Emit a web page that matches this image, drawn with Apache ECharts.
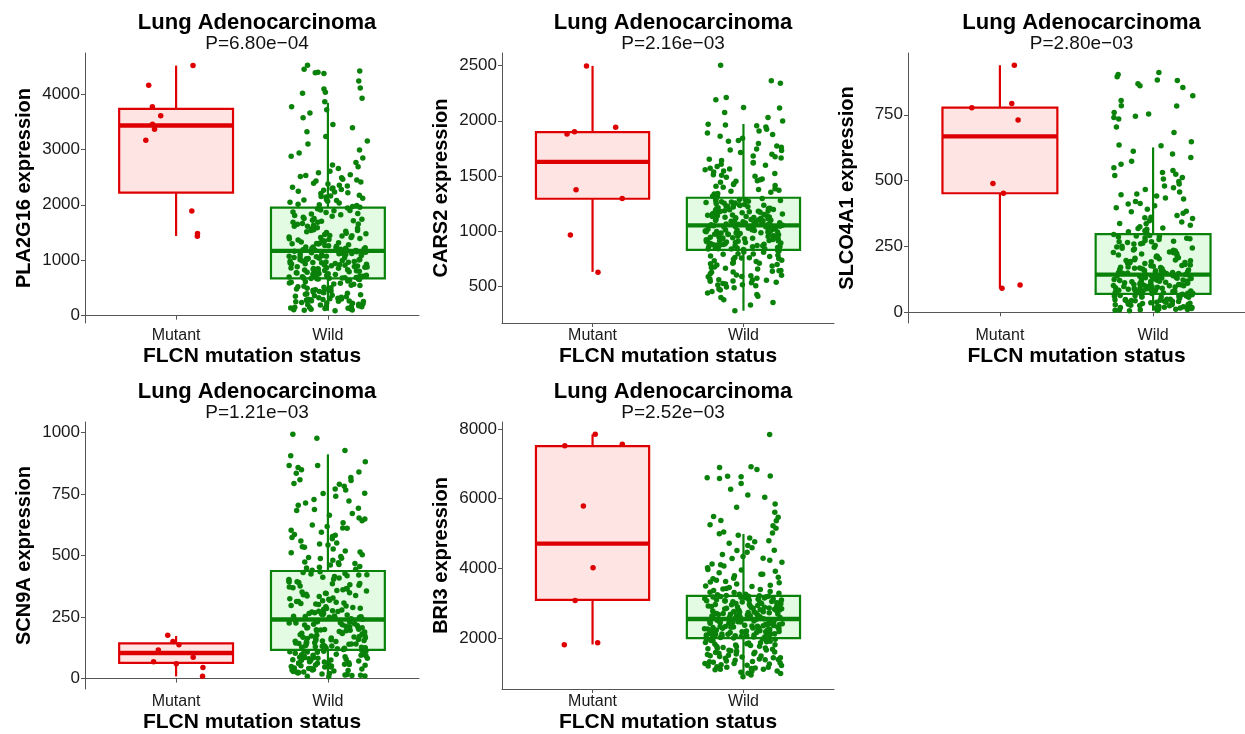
<!DOCTYPE html>
<html><head><meta charset="utf-8">
<script src="https://cdn.jsdelivr.net/npm/echarts@6/dist/echarts.min.js"></script>
<style>html,body{margin:0;padding:0;background:#fff}#c{width:1245px;height:734px}</style>
</head><body><div id="c"></div>
<script>
// ---- data ----
const categories = ['Mutant', 'Wild'];
const genes = ['PLA2G16', 'CARS2', 'SLCO4A1', 'SCN9A', 'BRI3'];
const pValues = ['P=6.80e\u221204', 'P=2.16e\u221203', 'P=2.80e\u221203', 'P=1.21e\u221203', 'P=2.52e\u221203'];
const yTicks = [
  [0, 1000, 2000, 3000, 4000],
  [500, 1000, 1500, 2000, 2500],
  [0, 250, 500, 750],
  [0, 250, 500, 750, 1000],
  [2000, 4000, 6000, 8000]
];
// box stats: [lower whisker, Q1, median, Q3, upper whisker]
const boxMutant = [
  [1439, 2219, 3430, 3730, 4510],
  [632, 1294, 1628, 1898, 2497],
  [91, 452, 668, 777, 938],
  [9, 64, 104, 143, 173],
  [1820, 3100, 4711, 7507, 7839]
];
const boxWild = [
  [90, 672, 1169, 1949, 3838],
  [280, 831, 1053, 1303, 1971],
  [6, 70, 143, 297, 626],
  [7, 117, 240, 437, 911],
  [891, 2000, 2550, 3213, 4986]
];
const mutant1 = [4156, 3766, 3604, 3454, 3364, 3166, 1889, 1481, 1433, 4510];
const mutant2 = [2497, 1941, 1901, 1880, 1375, 1297, 966, 629];
const mutant3 = [938, 793, 777, 730, 489, 452, 104, 91];
const mutant4 = [176, 151, 137, 116, 87, 68, 60, 45, 9];
const mutant5 = [7848, 7555, 7517, 5791, 4019, 3081, 1867, 1810];
const wild1 = [4516,4414,4390,4381,4444,4366,4234,4108,4090,4012,4030,3922,3856,3766,
3712,3654,3571,3447,3391,3318,3233,3152,3098,2987,2934,2876,2843,2761,2718,2684,2603,2577,2541,2512,2486,2447,2431,2409,2388,2352,2337,2317,2291,2276,2262,2233,2218,2204,2171,2158,2139,2117,2096,2078,2064,2046,2031,2012,2003,1987,1968,
1941,1929,1907,1896,1871,1863,1842,1819,1806,1794,1776,1751,1741,1722,1703,1686,1664,1655,1633,1615,1597,1584,1563,1549,1536,1512,1501,1487,1465,1448,1436,1421,1409,1387,1374,1355,1347,1331,1318,1302,1291,1279,1260,1251,1239,1226,1215,1204,1199,1188,1182,1176,1173,1168,1163,
1158,1146,1137,1126,1118,1104,1095,1083,1074,1062,1049,1038,1028,1019,1004,996,981,969,961,951,937,926,918,909,897,881,873,864,852,846,834,825,811,800,791,785,774,761,752,747,736,724,719,713,704,699,691,683,681,676,674,669,668,661,659,
652,641,625,613,604,587,571,566,548,533,522,514,497,483,473,461,447,429,421,406,397,387,371,359,349,341,326,314,302,294,283,268,262,251,239,224,214,208,193,178,172,167,152,139,133,128,118,106,102,97,91,287,305,276,264,
1893,1754,1612,1577,1443,1392,1268,1241,1187,1121,1088,1057,1012,987,954,931,902,877,858,839,817,796,778,757,731,709,694,1834,1711,1648,1523,1476,1366,1309,1232,1143,1109,1071,1033,976,943,913,889,861,829,806,769,741,716,
1958,2087,2149,2246,2301,2374,2462,2529,2655,588,543,506,468,437,412,376,331,297,256,231,198,161,147,122,1684,1538,1411,1297,1211,1152,1093,1047,1009,964];
const wild2 = [2503,2362,2341,2211,2190,2121,2115,2076,2031,1998,
1968,1962,1956,1943,1924,1907,1889,1876,1861,1841,1822,1814,1794,1772,1760,1745,1731,1713,1697,1682,1664,1651,1641,1622,1606,1597,1586,1571,1556,1546,1537,1522,1506,1497,1489,1473,1458,1452,1444,1429,1415,1407,1399,1384,1370,1362,1354,1338,1324,1316,
1299,1296,1287,1279,1276,1268,1261,1256,1251,1244,1235,1232,1227,1219,1212,1206,1203,1195,1186,1183,1179,1171,1164,1159,1155,1148,1140,1137,1133,1126,1118,1114,1111,1103,1096,1093,1090,1083,1077,1074,1072,1066,1061,1059,1057,1291,1242,1196,1158,1117,1081,1228,1134,1067,1054,
1049,1046,1041,1034,1032,1029,1023,1016,1014,1011,1004,997,995,992,985,979,976,973,967,960,957,955,948,941,939,936,929,922,919,916,909,902,899,897,889,882,879,877,869,862,859,857,849,842,839,835,1021,987,951,912,876,842,1002,933,861,
826,819,809,795,791,783,771,762,752,747,738,725,716,709,699,686,677,671,658,644,637,629,616,602,596,587,574,561,556,549,538,527,521,516,506,496,489,476,467,455,441,426,412,399,380,354,331,280,512,547,568,603,642,705,760,
1288,1272,1253,1247,1221,1209,1191,1176,1168,1151,1144,1129,1122,1107,1099,1086,1069,1063,1051,1043,1038,1026,1019,1007,1001,993,983,970,964,953,945,931,926,914,906,893,886,871,866,853,847,838,
1341,1378,1423,1467,1512,1563,1618,1674,1736,812,793,776,758,733,711,694,664,631,589,558,533,1264,1181,1097,1012,938,871,1239,1125,984,889];
const wild3 = [911,903,894,882,880,868,860,854,822,804,784,783,759,753,744,740,734,704,683,648,635,632,
612,601,588,574,562,549,538,531,524,519,506,497,487,480,466,457,449,442,434,430,421,413,405,397,391,384,376,368,361,356,348,343,336,331,325,320,315,310,306,302,
295,292,286,281,276,270,265,260,254,248,244,240,233,227,224,218,214,210,205,200,197,192,188,185,180,177,172,168,165,163,159,155,153,151,148,147,145,144,290,262,237,211,189,170,157,268,226,199,175,151,
141,140,137,134,133,130,129,126,125,122,121,118,117,114,113,110,109,106,105,102,101,98,97,94,93,90,89,86,85,82,81,78,77,74,73,71,138,126,112,98,86,74,132,118,104,92,80,72,134,106,
69,68,65,62,61,58,57,54,53,50,49,46,45,42,41,38,37,34,33,30,29,26,25,22,21,18,17,14,13,10,9,7,6,66,58,50,42,34,26,18,12,62,46,30,16,64,38,22,
288,279,268,259,247,236,229,216,207,196,186,178,167,161,154,147,139,131,123,116,108,101,95,88,83,76,72,283,251,221,193,171,158,136,119,103,91,79,273,243,203,182,164,149,128,111,96,84,
67,59,48,36,27,19,11,63,44,31,14,8,318,337,359,382,411,446,473,512];
const wild4 = [993,976,927,
905,881,866,857,848,834,817,805,792,781,770,766,752,741,727,713,704,692,683,671,664,652,641,633,624,612,603,594,585,577,568,559,551,543,534,526,518,511,503,496,488,481,474,467,461,455,449,444,440,618,573,536,492,463,789,
434,427,421,415,409,403,397,390,385,379,372,366,361,356,349,343,338,333,327,322,316,310,305,301,295,289,285,281,276,270,267,264,259,254,251,249,245,243,241,412,376,341,307,274,252,393,352,318,286,258,425,364,297,264,247,
237,232,229,226,221,216,213,210,205,200,197,194,189,184,181,178,173,168,165,163,159,155,153,151,147,143,141,139,135,131,129,127,123,120,119,231,211,194,176,158,142,127,219,187,163,134,226,199,171,146,124,207,181,152,131,
115,111,109,107,103,99,97,95,91,87,85,83,79,75,73,71,67,63,61,59,55,51,49,47,43,39,37,35,31,27,25,23,19,15,13,11,7,108,95,81,68,54,41,27,14,111,89,62,35,99,74,47,21,86,57,
431,418,404,392,381,369,358,346,335,324,313,303,292,282,273,262,253,244,236,227,218,208,198,191,183,175,166,157,149,140,132,125,118,422,386,347,313,279,249,223,196,169,145,121,
112,93,77,64,52,41,29,17,9,104,83,58,33,452,471,489,514,547,582,611,648,687,721,753,808,839,866];
const wild5 = [7839,6910,6891,6834,6645,6640,6626,6597,6578,6436,6265,6104,6038,5848,5754,5611,5488,5469,5374,5368,5251,5223,5147,5043,5014,4995,
4948,4872,4791,4720,4654,4589,4517,4463,4398,4341,4287,4232,4178,4126,4071,4019,3968,3921,3874,3829,3786,3744,3703,3662,3624,3588,3551,3517,3484,3452,3421,3392,3364,3337,3311,3286,3262,3241,3226,3218,
3204,3193,3178,3167,3151,3140,3126,3114,3100,3089,3073,3062,3048,3037,3021,3011,2996,2985,2970,2960,2945,2933,2919,2908,2893,2882,2868,2857,2842,2832,2817,2806,2792,2781,2767,2756,2741,2731,2716,2706,2691,2680,2666,2655,2641,2630,2616,2605,2591,2580,2566,2558,3186,2913,2648,
2543,2530,2522,2510,2503,2490,2482,2470,2462,2450,2443,2430,2423,2410,2402,2390,2383,2370,2362,2350,2343,2330,2322,2310,2303,2290,2282,2270,2263,2250,2242,2230,2223,2210,2202,2190,2183,2170,2162,2150,2143,2130,2122,2110,2102,2090,2083,2070,2062,2050,2043,2030,2022,2010,2003,
1987,1968,1951,1932,1914,1897,1879,1861,1842,1826,1807,1789,1771,1752,1734,1716,1697,1679,1661,1642,1624,1606,1587,1569,1551,1532,1514,1496,1477,1459,1441,1422,1404,1386,1367,1349,1331,1312,1294,1276,1257,1239,1221,1202,1184,1166,1147,1129,1111,1092,1058,1021,984,947,891,
3199,3172,3148,3121,3097,3069,3043,3016,2991,2962,2938,2911,2887,2861,2836,2811,2785,2758,2733,2709,2683,2659,2633,2609,2583,2561,2538,2516,2494,2471,2447,2426,2403,2381,2357,2336,2314,2292,2268,2247,2226,2204,2181,2159,2137,2114,2093,2071,2048,2026,2008,
3257,3318,3406,3497,3612,3718,3835,3957,4106,4288,4512,4761,1976,1922,1871,1815,1762,1708,1653,1598,1544,1489,1437,1382,1327,1273,1219,1163,1108,1049,994];
const mutantSets = [mutant1, mutant2, mutant3, mutant4, mutant5];
const wildSets = [wild1, wild2, wild3, wild4, wild5];

// ---- layout / style ----
const grids = [
  {left: 85, top: 53, width: 334, height: 270},
  {left: 502, top: 53, width: 332, height: 270},
  {left: 908, top: 53, width: 337, height: 270},
  {left: 85, top: 422, width: 334, height: 270},
  {left: 502, top: 422, width: 332, height: 270}
];
const RED = '#DE0000', RED_FILL = '#FFE4E4';
const GREEN = '#0A820A', GREEN_FILL = '#E3FBE3';
const FONT = '"Liberation Sans", Arial, Helvetica, sans-serif';
const BOX_HALF = 0.375, JITTER = 0.26;

// deterministic horizontal jitter (position only, values untouched)
function jitter(i, seed) {
  const s = Math.sin((i + 1) * 12.9898 + seed * 78.233) * 43758.5453;
  const f = s - Math.floor(s);
  return (f - 0.5) * 2 * JITTER;
}

const option = {
  backgroundColor: '#fff',
  animation: false,
  textStyle: {fontFamily: FONT},
  title: [], grid: [], xAxis: [], yAxis: [], series: []
};

grids.forEach((g, k) => {
  const all = [].concat(mutantSets[k], wildSets[k], boxMutant[k], boxWild[k]);
  const lo = Math.min.apply(null, all), hi = Math.max.apply(null, all);
  const pad = (hi - lo) * 0.05;
  option.grid.push({left: g.left, top: g.top, width: g.width, height: g.height, containLabel: false});
  option.title.push({
    text: 'Lung Adenocarcinoma', subtext: pValues[k],
    left: g.left + g.width / 2, top: g.top - 46, textAlign: 'center', itemGap: 0,
    textStyle: {fontFamily: FONT, fontSize: 22, fontWeight: 'bold', color: '#000'},
    subtextStyle: {fontFamily: FONT, fontSize: 19, color: '#111'}
  });
  option.xAxis.push({
    gridIndex: k, type: 'value', min: 0.4, max: 2.6,
    axisLine: {show: true, lineStyle: {color: '#555', width: 1}},
    axisTick: {show: true, customValues: [1, 2], length: 4, lineStyle: {color: '#555'}},
    axisLabel: {customValues: [1, 2], formatter: v => categories[Math.round(v) - 1] || '',
      fontSize: 16, color: '#1a1a1a', margin: 5, fontFamily: FONT},
    splitLine: {show: false},
    name: 'FLCN mutation status', nameLocation: 'middle', nameGap: 23,
    nameTextStyle: {fontSize: 21, fontWeight: 'bold', color: '#000', fontFamily: FONT}
  });
  option.yAxis.push({
    gridIndex: k, type: 'value', min: lo - pad, max: hi + pad,
    axisLine: {show: true, lineStyle: {color: '#555', width: 1}},
    axisTick: {show: true, customValues: yTicks[k], length: 4, lineStyle: {color: '#555'}},
    axisLabel: {customValues: yTicks[k], formatter: v => String(Math.round(v)),
      fontSize: 17, color: '#1a1a1a', margin: 5, fontFamily: FONT},
    splitLine: {show: false},
    name: genes[k] + ' expression', nameLocation: 'middle', nameGap: 51, nameMoveOverlap: false,
    nameTextStyle: {fontSize: 20, fontWeight: 'bold', color: '#000', fontFamily: FONT}
  });
  option.series.push({
    type: 'custom', xAxisIndex: k, yAxisIndex: k, z: 2, silent: true,
    data: [[1].concat(boxMutant[k]), [2].concat(boxWild[k])],
    encode: {x: 0, y: [1, 2, 3, 4, 5]},
    renderItem: function (params, api) {
      const x = api.value(0);
      const col = x === 1 ? RED : GREEN, fill = x === 1 ? RED_FILL : GREEN_FILL;
      const pLo = api.coord([x, api.value(1)]), pQ1 = api.coord([x, api.value(2)]);
      const pQ3 = api.coord([x, api.value(4)]), pHi = api.coord([x, api.value(5)]);
      const tl = api.coord([x - BOX_HALF, api.value(4)]), br = api.coord([x + BOX_HALF, api.value(2)]);
      const mL = api.coord([x - BOX_HALF, api.value(3)]), mR = api.coord([x + BOX_HALF, api.value(3)]);
      return {type: 'group', children: [
        {type: 'line', shape: {x1: pHi[0], y1: pHi[1], x2: pQ3[0], y2: pQ3[1]}, style: {stroke: col, lineWidth: 2.2}},
        {type: 'line', shape: {x1: pQ1[0], y1: pQ1[1], x2: pLo[0], y2: pLo[1]}, style: {stroke: col, lineWidth: 2.2}},
        {type: 'rect', shape: {x: tl[0], y: tl[1], width: br[0] - tl[0], height: br[1] - tl[1]}, style: {fill: fill, stroke: col, lineWidth: 2.2}},
        {type: 'line', shape: {x1: mL[0], y1: mL[1], x2: mR[0], y2: mR[1]}, style: {stroke: col, lineWidth: 4.4}}
      ]};
    }
  });
  option.series.push({
    type: 'scatter', xAxisIndex: k, yAxisIndex: k, z: 3, silent: true,
    symbolSize: 5.5, itemStyle: {color: RED, opacity: 1},
    data: mutantSets[k].map((v, i) => [1 + jitter(i, 3.1 + k) * 0.8, v])
  });
  option.series.push({
    type: 'scatter', xAxisIndex: k, yAxisIndex: k, z: 3, silent: true,
    symbolSize: 5.5, itemStyle: {color: GREEN, opacity: 1},
    data: wildSets[k].map((v, i) => [2 + jitter(i, 7.7 + k), v])
  });
});

const chart = echarts.init(document.getElementById('c'), null, {renderer: 'canvas'});
chart.setOption(option);
</script></body></html>
